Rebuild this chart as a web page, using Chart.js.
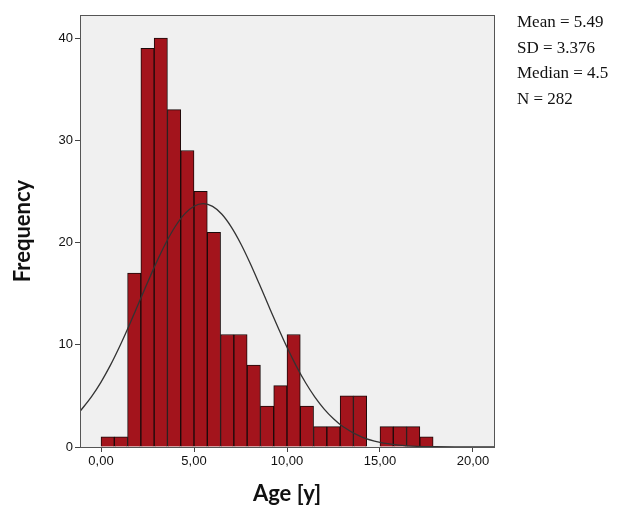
<!DOCTYPE html>
<html>
<head>
<meta charset="utf-8">
<script src="https://cdn.jsdelivr.net/npm/chart.js@4.4.1/dist/chart.umd.min.js"></script>
<style>
  body { margin: 0; background: #ffffff; }
  #wrap { position: relative; width: 632px; height: 507px; }
  #stats { position: absolute; left: 517px; top: 9px; font-family: "Liberation Serif", "Times New Roman", serif; font-size: 17px; line-height: 25.5px; color: #111; }
</style>
</head>
<body>
<div id="wrap">
  <canvas id="graph1" width="632" height="507"></canvas>
  <div id="stats">Mean = 5.49<br>SD = 3.376<br>Median = 4.5<br>N = 282</div>
</div>
<script>
// histogram bins (centres of 0.714 wide bins) and counts
var binCentres = [0.357, 1.071, 1.786, 2.5, 3.214, 3.929, 4.643, 5.357, 6.071, 6.786, 7.5, 8.214, 8.929,
  9.643, 10.357, 11.071, 11.786, 12.5, 13.214, 13.929, 14.643, 15.357, 16.071, 16.786, 17.5];
var binCounts = [1, 1, 17, 39, 40, 33, 29, 25, 21, 11, 11, 8, 4, 6, 11, 4, 2, 2, 5, 5, 0, 2, 2, 2, 1];

// normal curve
var curveX = [-1.13, -0.5, 0, 0.5, 1, 1.5, 2, 2.5, 3, 3.5, 4, 4.5, 5, 5.5, 6, 6.5, 7, 7.5, 8, 8.5, 9, 9.5,
  10, 10.5, 11, 11.5, 12, 12.5, 13, 14, 15, 16, 17, 18, 19, 20, 21.13];
var curveY = [3.48, 4.95, 6.35, 7.98, 9.83, 11.84, 13.95, 16.08, 18.13, 20.0, 21.59, 22.8, 23.55, 23.8, 23.53,
  22.76, 21.53, 19.93, 18.05, 15.99, 13.86, 11.76, 9.75, 7.91, 6.28, 4.88, 3.71, 2.76, 2.0, 0.99, 0.45,
  0.19, 0.07, 0.03, 0.01, 0.0, 0.0];

var xTicks = [0, 5, 10, 15, 20];
var yTicks = [0, 10, 20, 30, 40];

function pairUp(xs, ys) {
  var out = [];
  for (var i = 0; i < xs.length; i++) {
    out.push({ x: xs[i], y: ys[i] });
  }
  return out;
}

var plotBox = {
  id: 'plotBox',
  beforeDatasetsDraw: function (chart) {
    var a = chart.chartArea;
    var ctx = chart.ctx;
    ctx.save();
    ctx.fillStyle = '#f0f0f0';
    ctx.fillRect(a.left, a.top, a.right - a.left, a.bottom - a.top);
    ctx.restore();
  },
  afterDatasetsDraw: function (chart) {
    var a = chart.chartArea;
    var ctx = chart.ctx;
    ctx.save();
    ctx.strokeStyle = '#555555';
    ctx.lineWidth = 1;
    ctx.strokeRect(a.left + 0.5, a.top + 0.5, a.right - a.left, a.bottom - a.top);
    ctx.restore();
  }
};

var ctx = document.getElementById('graph1').getContext('2d');
var chart = new Chart(ctx, {
  type: 'bar',
  data: {
    datasets: [
      {
        type: 'line',
        data: pairUp(curveX, curveY),
        borderColor: '#333333',
        borderWidth: 1.3,
        pointRadius: 0,
        cubicInterpolationMode: 'monotone',
        fill: false,
        clip: 0,
        order: 0
      },
      {
        type: 'bar',
        data: pairUp(binCentres, binCounts),
        backgroundColor: '#a3141c',
        borderColor: '#1a0a0a',
        borderWidth: 1,
        barPercentage: 1,
        categoryPercentage: 1,
        order: 1
      }
    ]
  },
  options: {
    responsive: false,
    animation: false,
    layout: { padding: { top: 15, right: 138, left: 0, bottom: 0 } },
    plugins: { legend: { display: false }, tooltip: { enabled: false } },
    scales: {
      x: {
        type: 'linear',
        min: -1.13,
        max: 21.13,
        offset: false,
        afterFit: function (s) { s.height = 60; },
        afterBuildTicks: function (s) {
          s.ticks = xTicks.map(function (v) { return { value: v }; });
        },
        ticks: {
          color: '#111',
          font: { family: 'Liberation Sans', size: 13 },
          padding: 2,
          maxRotation: 0,
          callback: function (v) { return v.toFixed(2).replace('.', ','); }
        },
        grid: { offset: false, drawOnChartArea: false, tickLength: 5, color: '#444' },
        border: { color: '#555', width: 1 },
        title: {
          display: true,
          text: 'Age [y]',
          color: '#111',
          font: { family: 'Lato', size: 22, weight: 'bold' },
          padding: { top: 4, bottom: 0 }
        }
      },
      y: {
        min: 0,
        max: 42.25,
        afterFit: function (s) { s.width = 80; },
        afterBuildTicks: function (s) {
          s.ticks = yTicks.map(function (v) { return { value: v }; });
        },
        ticks: {
          color: '#111',
          font: { family: 'Liberation Sans', size: 13 },
          padding: 2
        },
        grid: { drawOnChartArea: false, tickLength: 5, color: '#444' },
        border: { color: '#555', width: 1 },
        title: {
          display: true,
          text: 'Frequency',
          color: '#111',
          font: { family: 'Lato', size: 22, weight: 'bold' },
          padding: { top: 10, bottom: 10 }
        }
      }
    }
  },
  plugins: [plotBox]
});
</script>
</body>
</html>
